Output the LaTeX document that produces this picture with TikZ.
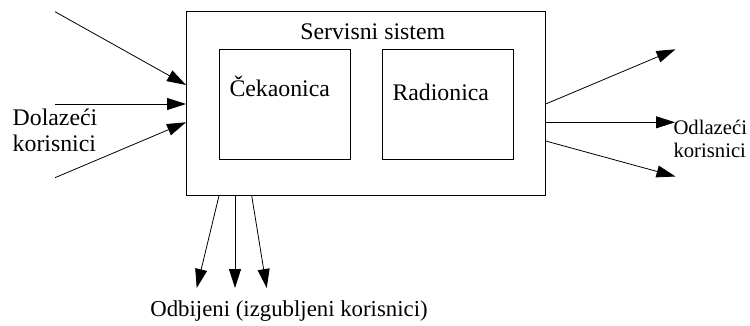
\documentclass[tikz,border=0pt]{standalone}
\usepackage{fontspec}
\setmainfont{Liberation Serif}
\usetikzlibrary{arrows.meta}
\begin{document}
\begin{tikzpicture}[x=1pt,y=-1pt,
  box/.style={draw,line width=0.8pt,inner sep=0pt,rectangle},
  lbl/.style={inner sep=0pt,font=\fontsize{23.8}{26}\selectfont},
  lbls/.style={inner sep=0pt,font=\fontsize{20.7}{23}\selectfont},
  lblb/.style={inner sep=0pt,font=\fontsize{22.8}{25}\selectfont},
  arr/.style={line width=0.8pt,-{Triangle[length=19pt,width=12pt]}}]
\useasboundingbox (0,0) rectangle (750,326);
% boxes
\node[box,minimum width=359.7pt,minimum height=184pt] (main) at (365.85,103.7) {};
\node[box,minimum width=131pt,minimum height=110.3pt] (cek) at (284.5,104.15) {};
\node[box,minimum width=131pt,minimum height=110.3pt] (rad) at (447.8,104.15) {};
% labels
\node[lbl,anchor=base] (ss) at (372.7,39.3) {Servisni sistem};
\node[lbl,anchor=base west] (tcek) at (229.3,96.7) {Čekaonica};
\node[lbl,anchor=base west] (trad) at (392.3,100.7) {Radionica};
\node[lbl,anchor=base west] (d1) at (12.5,126) {Dolazeći};
\node[lbl,anchor=base west] (d2) at (12.5,151.7) {korisnici};
\node[lbls,anchor=base west] (o1) at (673.3,134.5) {Odlazeći};
\node[lbls,anchor=base west] (o2) at (673.3,157.5) {korisnici};
\node[lblb,anchor=base] (odb) at (289,316) {Odbijeni (izgubljeni korisnici)};
% incoming
\coordinate (a1) at (55,11.7);   \coordinate (b1) at (186,85);
\coordinate (a2) at (55,104);    \coordinate (b2) at (186,104);
\coordinate (a3) at (55,177.7);  \coordinate (b3) at (186,122.3);
\draw[arr] (a1) -- (b1);
\draw[arr] (a2) -- (b2);
\draw[arr] (a3) -- (b3);
% outgoing
\coordinate (c1) at (545.7,104);   \coordinate (e1) at (675.5,49.3);
\coordinate (c2) at (545.7,122.3); \coordinate (e2) at (675,122.3);
\coordinate (c3) at (545.7,141);   \coordinate (e3) at (675.5,176.5);
\draw[arr] (c1) -- (e1);
\draw[arr] (c2) -- (e2);
\draw[arr] (c3) -- (e3);
% rejected
\coordinate (f1) at (219,195.7);   \coordinate (g1) at (196.7,288);
\coordinate (f2) at (235,195.7);   \coordinate (g2) at (235,288);
\coordinate (f3) at (251.7,195.7); \coordinate (g3) at (266.7,288);
\draw[arr] (f1) -- (g1);
\draw[arr] (f2) -- (g2);
\draw[arr] (f3) -- (g3);
\end{tikzpicture}
\end{document}
